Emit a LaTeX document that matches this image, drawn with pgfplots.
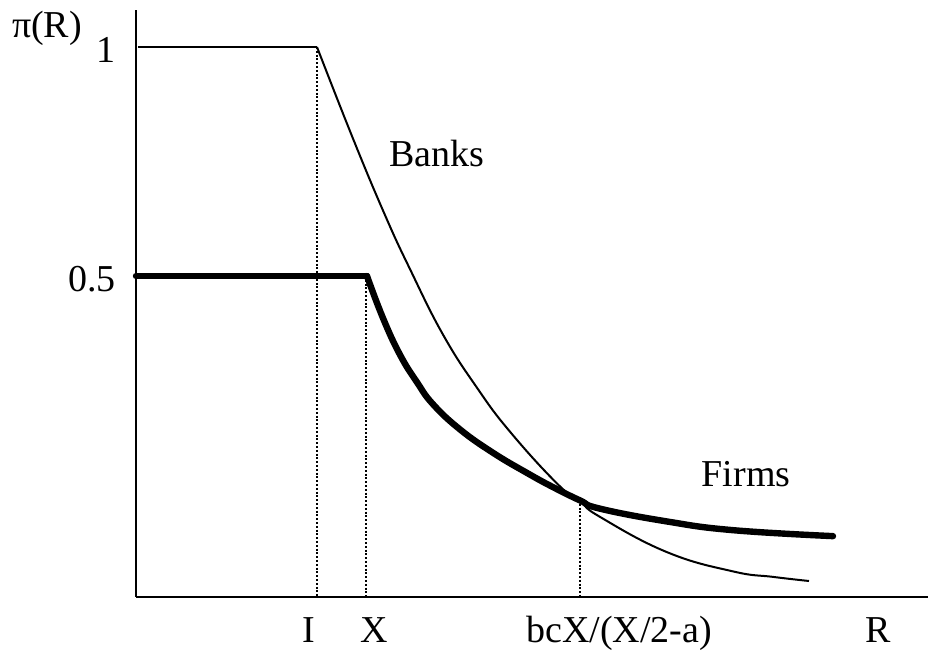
\documentclass[border=0pt]{standalone}
\usepackage{fontspec}
\setmainfont{Liberation Serif}
\usepackage{pgfplots}
\pgfplotsset{compat=1.18}

\begin{document}
\fontsize{19}{22}\selectfont
\begin{tikzpicture}
\useasboundingbox (0,0) rectangle (464pt,326.5pt);
\begin{axis}[
  at={(68pt,28pt)}, anchor=south west,
  scale only axis, width=396pt, height=293.5pt,
  xmin=0, xmax=7.92, ymin=-0.2009, ymax=1.0808,
  axis x line=bottom, axis y line=left,
  axis line style={-, line width=1.2pt},
  xtick={1.73,2.38,4.83,7.42},
  xticklabels={I,X,bcX/(X/2-a),R},
  ytick={0.5,1}, yticklabels={0.5,1},
  major tick length=0pt,
  tick style={draw=none},
  ticklabel style={font=\fontsize{19}{22}\selectfont},
  xticklabel style={anchor=base, inner sep=0pt, yshift=-23pt},
  yticklabel style={anchor=east, inner sep=0pt, xshift=-10pt, yshift=-1.5pt},
  clip=false,
]
% dotted guides
\addplot[line width=1.3pt, dash pattern=on 1pt off 0.9pt] coordinates {(1.81,1) (1.81,-0.2009)};
\addplot[line width=1.3pt, dash pattern=on 1pt off 0.9pt] coordinates {(2.30,0.5) (2.30,-0.2009)};
\addplot[line width=1.3pt, dash pattern=on 1pt off 0.9pt] coordinates {(4.44,0.011) (4.44,-0.2009)};

% Banks
\addplot[line width=1pt] coordinates {(0.02,1) (1.81,1)};
\addplot[line width=1pt, smooth, tension=0.75] coordinates {
  (1.81,1.0) (2.17,0.800) (2.49,0.633) (2.74,0.515) (3.07,0.372)
  (3.41,0.256) (3.74,0.160) (4.21,0.047) (4.44,0.008) (4.64,-0.026)
  (5.31,-0.103) (5.97,-0.145) (6.37,-0.157) (6.73,-0.166)
};

% Firms
\addplot[line width=3.2pt, line cap=round, line join=round] coordinates {(0,0.5) (2.31,0.5)};
\addplot[line width=3.2pt, line cap=round, smooth, tension=0.75] coordinates {
  (2.31,0.5) (2.47,0.408) (2.64,0.328) (2.81,0.268) (2.97,0.220)
  (3.24,0.165) (3.57,0.114) (3.91,0.070) (4.17,0.039) (4.44,0.010)
  (4.64,-0.008) (5.31,-0.036) (5.97,-0.055) (6.97,-0.068)
};

\node[anchor=base, inner sep=0pt] at (axis cs:-0.89,1.0197) {π(R)};
\node[anchor=base, inner sep=0pt] at (axis cs:3.01,0.738) {Banks};
\node[anchor=base, inner sep=0pt] at (axis cs:6.10,0.0393) {Firms};
\end{axis}
\end{tikzpicture}
\end{document}
